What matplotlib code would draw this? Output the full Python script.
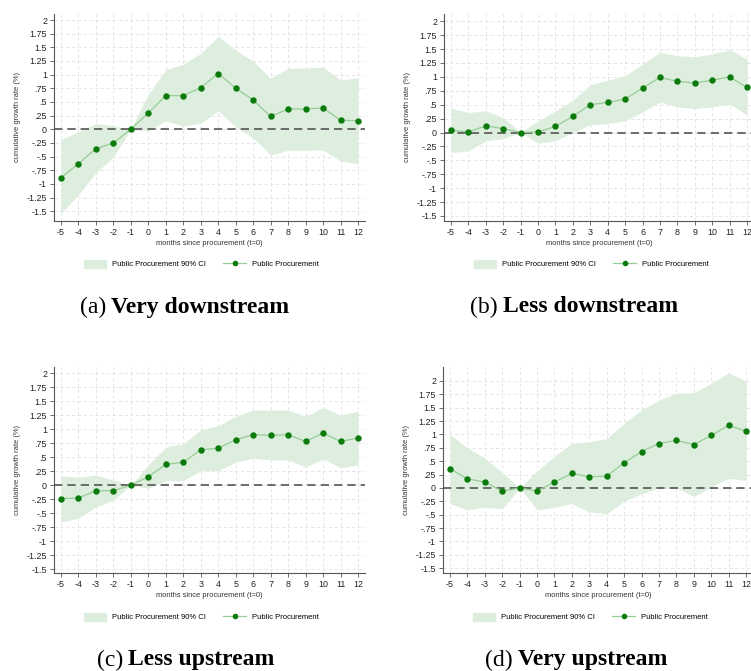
import numpy as np
import matplotlib
matplotlib.use("Agg")
import matplotlib.pyplot as plt

plt.rcParams["font.family"] = ["Liberation Sans", "DejaVu Sans"]

months = list(range(-5, 13))
yticks = [2, 1.75, 1.5, 1.25, 1, .75, .5, .25, 0, -.25, -.5, -.75, -1, -1.25, -1.5]
ytick_labels = ["2", "1.75", "1.5", "1.25", "1", ".75", ".5", ".25", "0",
                "-.25", "-.5", "-.75", "-1", "-1.25", "-1.5"]

# (a) Very downstream
est_a = [-0.89, -0.63, -0.355, -0.25, 0, 0.30, 0.615, 0.615, 0.76, 1.02, 0.75, 0.535,
         0.235, 0.37, 0.37, 0.39, 0.165, 0.155]
hi_a = [-0.19, -0.05, 0.105, 0.065, 0, 0.645, 1.09, 1.19, 1.39, 1.70, 1.45, 1.25,
        0.93, 1.12, 1.12, 1.14, 0.90, 0.94]
lo_a = [-1.54, -1.20, -0.795, -0.51, 0, -0.03, 0.155, 0.057, 0.11, 0.34, 0.045, -0.16,
        -0.47, -0.385, -0.385, -0.38, -0.58, -0.635]

# (b) Less downstream
est_b = [0.04, 0.01, 0.12, 0.07, 0, 0.01, 0.11, 0.29, 0.50, 0.54, 0.60, 0.80,
         0.99, 0.92, 0.89, 0.94, 1.00, 0.81]
hi_b = [0.44, 0.36, 0.39, 0.27, 0, 0.21, 0.39, 0.58, 0.86, 0.94, 1.02, 1.23,
        1.44, 1.38, 1.36, 1.41, 1.49, 1.32]
lo_b = [-0.36, -0.33, -0.15, -0.11, 0, -0.19, -0.15, 0.0, 0.14, 0.16, 0.21, 0.37,
        0.55, 0.46, 0.43, 0.46, 0.51, 0.32]

# (c) Less upstream
est_c = [-0.24, -0.23, -0.10, -0.10, 0, 0.15, 0.37, 0.41, 0.63, 0.66, 0.81, 0.90,
         0.89, 0.90, 0.78, 0.93, 0.78, 0.84]
hi_c = [0.17, 0.14, 0.18, 0.09, 0, 0.36, 0.68, 0.74, 0.99, 1.06, 1.23, 1.34,
        1.34, 1.34, 1.23, 1.39, 1.25, 1.32]
lo_c = [-0.66, -0.59, -0.39, -0.27, 0, -0.06, 0.08, 0.08, 0.26, 0.26, 0.41, 0.48,
        0.45, 0.45, 0.32, 0.47, 0.31, 0.36]

# (d) Very upstream
est_d = [0.36, 0.17, 0.11, -0.06, 0, -0.06, 0.11, 0.27, 0.21, 0.22, 0.47, 0.68,
         0.83, 0.89, 0.81, 0.98, 1.17, 1.06]
hi_d = [1.00, 0.75, 0.56, 0.29, 0, 0.32, 0.59, 0.84, 0.86, 0.92, 1.21, 1.46,
        1.64, 1.77, 1.78, 1.95, 2.15, 2.00]
lo_d = [-0.29, -0.41, -0.36, -0.39, 0, -0.41, -0.36, -0.29, -0.45, -0.48, -0.25, -0.11,
        0.0, 0.0, -0.16, 0.02, 0.18, 0.14]

captions = [("(a)", "Very downstream"), ("(b)", "Less downstream"),
            ("(c)", "Less upstream"), ("(d)", "Very upstream")]

W, H = 751, 671
fig = plt.figure(figsize=(W / 100, H / 100), dpi=100)

# panel boxes in pixels: left, top, right, bottom, ylim
panels = [
    (54, 14, 365, 221, (-1.68, 2.11), est_a, hi_a, lo_a),
    (444, 14, 754, 221, (-1.59, 2.13), est_b, hi_b, lo_b),
    (54, 367, 365, 573, (-1.57, 2.11), est_c, hi_c, lo_c),
    (443, 367, 753, 573, (-1.59, 2.26), est_d, hi_d, lo_d),
]

fill_col = "#deeede"
line_col = "#96cc96"
mark_col = "#0a7a0a"
axis_col = "#555555"

for i, (l, t, r, b, ylim, est, hi, lo) in enumerate(panels):
    ax = fig.add_axes([l / W, 1 - b / H, (r - l) / W, (b - t) / H])
    ax.fill_between(months, lo, hi, color=fill_col, lw=0, zorder=1)
    ax.plot(months, est, color=line_col, lw=0.9, zorder=3)
    ax.plot(months, est, ls="none", marker="o", ms=3.6, color=mark_col, zorder=4)
    ax.axhline(0, color=axis_col, ls=(0, (5, 3)), lw=1.2, zorder=2)

    ax.set_xlim(-5.4, 12.4)
    ax.set_ylim(*ylim)
    ax.set_xticks(months)
    ax.set_xticklabels([str(m) for m in months])
    ax.set_yticks(yticks)
    ax.set_yticklabels(ytick_labels)
    ax.tick_params(labelsize=6.4, colors="#222222", length=3, width=0.6,
                   color=axis_col, pad=2)
    ax.grid(True, color="#e2e2e2", ls=(0, (4, 3)), lw=0.6, zorder=0)
    ax.set_axisbelow(True)
    for s in ["top", "right"]:
        ax.spines[s].set_visible(False)
    for s in ["left", "bottom"]:
        ax.spines[s].set_color(axis_col)
        ax.spines[s].set_linewidth(0.8)
    ax.set_xlabel("months since procurement (t=0)", fontsize=5.4,
                  color="#333333", labelpad=2)
    ax.set_ylabel("cumulative growth rate (%)", fontsize=5.4,
                  color="#333333", labelpad=4)

    # legend below the panel
    h1 = plt.Rectangle((0, 0), 1, 1, color=fill_col)
    h2, = ax.plot([], [], color=line_col, lw=0.9, marker="o", ms=3,
                  mfc=mark_col, mec=mark_col)
    leg_y = 1 - (t + 250) / H
    leg_x = (l - 54 + 201) / W
    fig.legend([h1, h2], ["Public Procurement 90% CI", "Public Procurement"],
               loc="center", bbox_to_anchor=(leg_x, leg_y), ncol=2,
               frameon=False, fontsize=5.5, handlelength=3.0,
               handleheight=1.3, columnspacing=2.3, handletextpad=0.7)

fig.canvas.draw()
renderer = fig.canvas.get_renderer()
cap_pos = [(80, 307), (470, 307), (97, 660), (485, 660)]
for (tag, name), (x, y) in zip(captions, cap_pos):
    t1 = fig.text(x / W, 1 - y / H, tag, fontsize=17, family="Liberation Serif",
                  ha="left", va="center")
    bb = t1.get_window_extent(renderer)
    fig.text((bb.x1 + 5) / W, 1 - y / H, name, fontsize=17,
             family="Liberation Serif", fontweight="bold", ha="left", va="center")

fig.savefig("out.png", dpi=100)
